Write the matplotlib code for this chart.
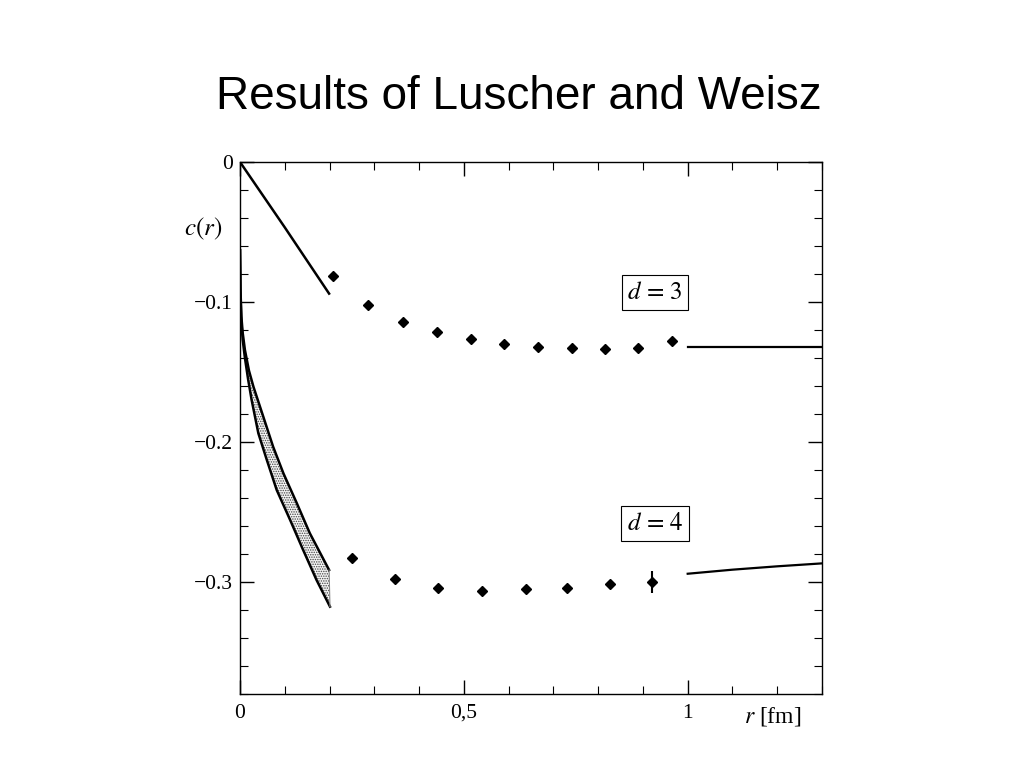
import matplotlib
matplotlib.use("Agg")
import matplotlib.pyplot as plt
import numpy as np

plt.rcParams['mathtext.fontset'] = 'stix'
plt.rcParams['hatch.linewidth'] = 0.7

# d=3 data
d3_r = [0.207, 0.287, 0.363, 0.440, 0.516, 0.589, 0.665, 0.742, 0.815, 0.890, 0.964]
d3_c = [-0.0812, -0.1019, -0.1143, -0.1212, -0.1266, -0.1302, -0.1320, -0.1326, -0.1336, -0.1326, -0.1279]
d3_short_r = [0.0, 0.1, 0.199]
d3_short_c = [0.0, -0.0467, -0.094]
d3_long_r = [1.0, 1.3]
d3_long_c = [-0.1319, -0.1319]

# d=4 data
d4_r = [0.251, 0.347, 0.443, 0.541, 0.638, 0.731, 0.827, 0.920]
d4_c = [-0.2826, -0.2981, -0.3045, -0.3062, -0.3052, -0.3045, -0.3016, -0.3002]
d4_err = [0, 0, 0, 0, 0, 0, 0, 0.008]
d4_long_r = [1.0, 1.1, 1.2, 1.3]
d4_long_c = [-0.2941, -0.2912, -0.2888, -0.2867]

band_upper_r = [0.0, 0.001, 0.003, 0.006, 0.011, 0.020, 0.030, 0.052, 0.074, 0.097, 0.127, 0.156, 0.199]
band_upper_c = [-0.063, -0.090, -0.110, -0.122, -0.1343, -0.149, -0.1605, -0.1819, -0.2034, -0.2224, -0.2438, -0.2652, -0.2914]
band_lower_r = [0.0, 0.001, 0.003, 0.006, 0.011, 0.018, 0.026, 0.041, 0.060, 0.082, 0.112, 0.141, 0.171, 0.201]
band_lower_c = [-0.063, -0.093, -0.114, -0.127, -0.140, -0.155, -0.170, -0.1938, -0.2129, -0.2343, -0.2557, -0.2771, -0.2986, -0.3176]

fig = plt.figure(figsize=(10.24, 7.68), dpi=100)
fig.text(0.507, 0.874, "Results of Luscher and Weisz", ha='center', va='center',
         fontsize=33, family='Liberation Sans')
ax = fig.add_axes([240/1024, 1-694/768, 582/1024, 532/768])

ax.plot(d3_short_r, d3_short_c, color='black', lw=1.8)
ax.plot(d3_long_r, d3_long_c, color='black', lw=1.6)
ax.plot(d3_r, d3_c, linestyle='none', marker='D', color='black', markersize=5.5)

# band
rr = np.linspace(0, 0.2, 400)
up = np.interp(rr, band_upper_r, band_upper_c)
lo = np.interp(rr, band_lower_r, band_lower_c)
ax.fill_between(rr, lo, up, facecolor='#f4f4f4', edgecolor='#444444', hatch='.......', linewidth=0)
ax.plot(band_upper_r, band_upper_c, color='black', lw=1.8)
ax.plot(band_lower_r, band_lower_c, color='black', lw=1.8)
ax.plot([band_upper_r[-1], band_lower_r[-1]], [band_upper_c[-1], band_lower_c[-1]], color='#888888', lw=0.8)

ax.plot(d4_long_r, d4_long_c, color='black', lw=1.6)
ax.errorbar(d4_r, d4_c, yerr=d4_err, linestyle='none', marker='D', color='black',
            markersize=5.5, elinewidth=1.5, capsize=0)

ax.set_xlim(0, 1.3)
ax.set_ylim(-0.38, 0)
ax.set_xticks([0, 0.5, 1])
ax.set_xticklabels(['0', '0,5', '1'])
ax.set_xticks(np.arange(0, 1.31, 0.1), minor=True)
ax.set_yticks([0, -0.1, -0.2, -0.3])
ax.set_yticklabels(['0', '\u22120.1', '\u22120.2', '\u22120.3'])
ax.set_yticks(np.arange(-0.38, 0.001, 0.02), minor=True)
ax.tick_params(which='both', direction='in', top=True, right=True, labelsize=15.5)
ax.tick_params(which='major', length=10, width=1)
ax.tick_params(which='minor', length=6, width=0.8)
ax.tick_params(axis='x', labeltop=False, pad=7)
ax.tick_params(axis='y', labelright=False, pad=5)
for lab in ax.get_xticklabels() + ax.get_yticklabels():
    lab.set_family('Liberation Serif')
for s in ax.spines.values():
    s.set_linewidth(1.0)

ax.text(-0.04, -0.048, r'$c(r)$', ha='right', va='center', fontsize=18)
ax.text(1.19, -0.388, r'$r$ [fm]', ha='center', va='top', fontsize=17, family='Liberation Serif')
ax.text(0.927, -0.0929, r'$d\,=\,3$', ha='center', va='center', fontsize=18,
        bbox=dict(boxstyle='square,pad=0.22', facecolor='white', edgecolor='black', lw=0.8))
ax.text(0.927, -0.258, r'$d\,=\,4$', ha='center', va='center', fontsize=18,
        bbox=dict(boxstyle='square,pad=0.22', facecolor='white', edgecolor='black', lw=0.8))

fig.savefig('out.png', dpi=100)
